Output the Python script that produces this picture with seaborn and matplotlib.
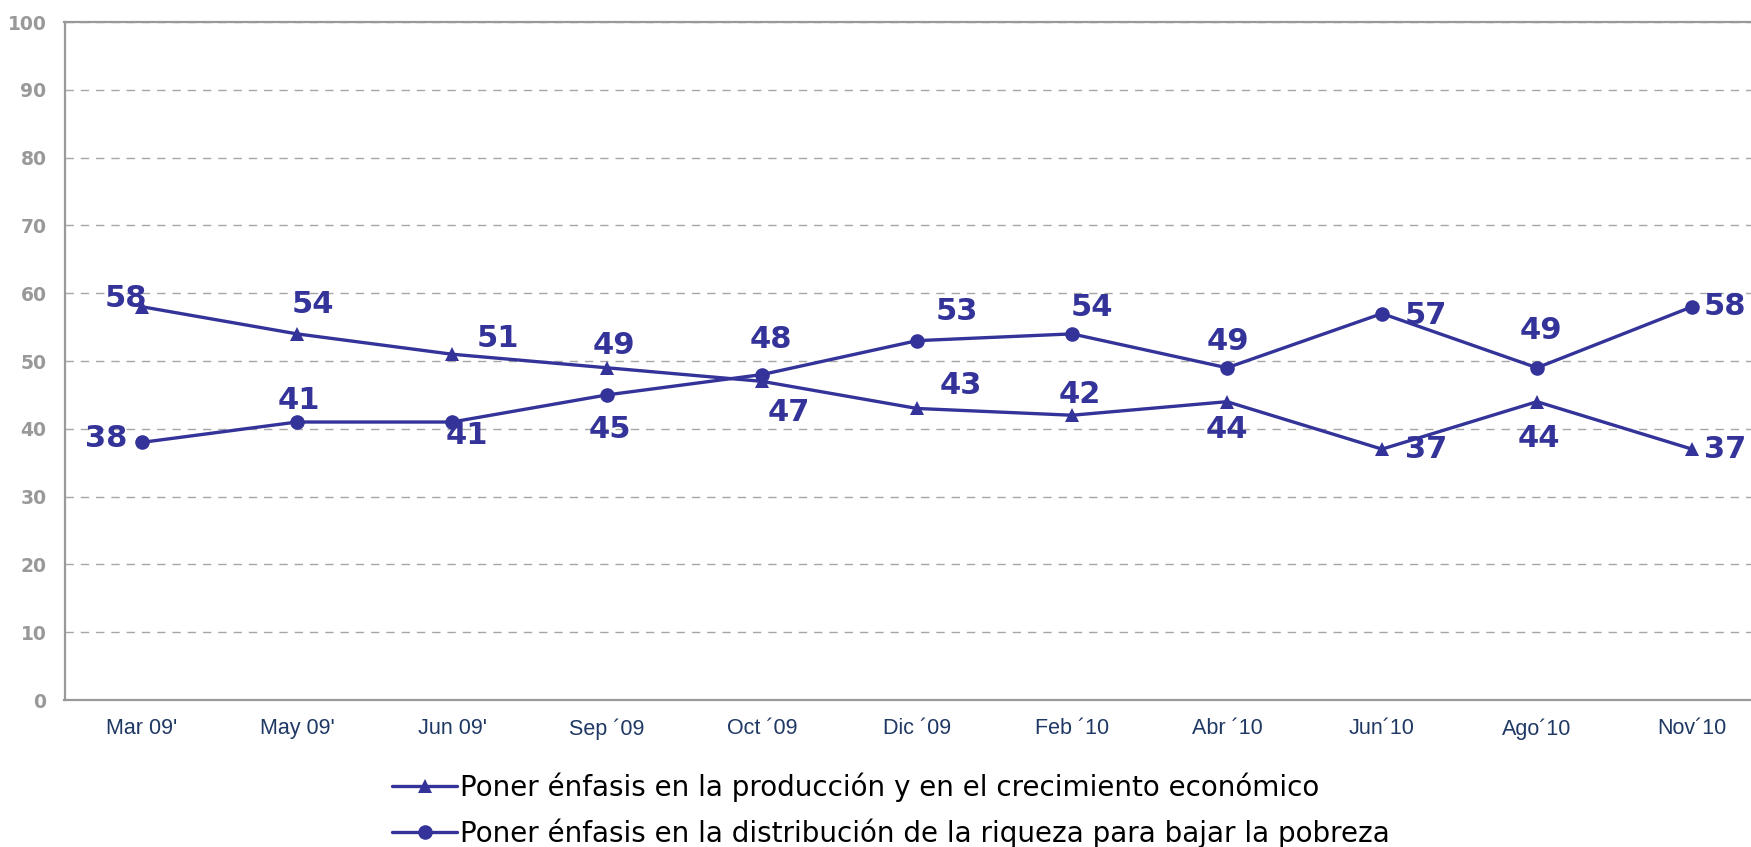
import pandas as pd
import numpy as np
import matplotlib
matplotlib.use("Agg")
import matplotlib.pyplot as plt
import seaborn as sns

# survey waves
months = ["Mar 09'", "May 09'", "Jun 09'", "Sep ´09", "Oct ´09", "Dic ´09",
          "Feb ´10", "Abr ´10", "Jun´10", "Ago´10", "Nov´10"]

# series values (%)
produccion = [58, 54, 51, 49, 47, 43, 42, 44, 37, 44, 37]
distribucion = [38, 41, 41, 45, 48, 53, 54, 49, 57, 49, 58]

label_prod = "Poner énfasis en la producción y en el crecimiento económico"
label_dist = "Poner énfasis en la distribución de la riqueza para bajar la pobreza"

# label offsets in pixels (dx, dy) relative to each point
off_prod = [(-16, 8), (16, 29), (46, 16), (7, 22), (27, -31), (44, 23),
            (8, 21), (0, -28), (44, 0), (2, -37), (33, 0)]
off_dist = [(-36, 4), (2, 22), (15, -13), (3, -35), (9, 35), (40, 29),
            (20, 26), (1, 26), (44, -2), (4, 37), (33, 0)]

blue = "#333399"
gray = "#999999"

df = pd.DataFrame({
    "mes": months * 2,
    "pos": list(range(len(months))) * 2,
    "valor": produccion + distribucion,
    "serie": [label_prod] * len(months) + [label_dist] * len(months),
})

sns.set_style("white")
plt.rcParams['font.family'] = ['DejaVu Sans']

W, H = 1751, 847
fig = plt.figure(figsize=(W / 100, H / 100), dpi=100)
ax = fig.add_axes([64.5 / W, 1 - 700 / H, 1705 / W, 678 / H])

sns.lineplot(data=df, x="pos", y="valor", hue="serie", style="serie",
             palette=[blue, blue], markers={label_prod: "^", label_dist: "o"},
             dashes=False, linewidth=2.4, markersize=10.5, markeredgewidth=0,
             sort=False, ax=ax)

handles, labels = ax.get_legend_handles_labels()
ax.get_legend().remove()

# data labels
for i in range(len(months)):
    ax.annotate(str(produccion[i]), (i, produccion[i]), xytext=off_prod[i],
                textcoords="offset pixels", ha="center", va="center",
                fontsize=22, fontweight="bold", color=blue)
    ax.annotate(str(distribucion[i]), (i, distribucion[i]), xytext=off_dist[i],
                textcoords="offset pixels", ha="center", va="center",
                fontsize=22, fontweight="bold", color=blue)

ax.set_xlim(-0.5, len(months) - 0.5)
ax.set_ylim(0, 100)
ax.set_yticks(np.arange(0, 101, 10))
ax.set_xticks(range(len(months)))
ax.set_xticklabels(months, family="Liberation Sans", fontsize=15.5, color="#1f3864")
ax.set_xticks(np.arange(-0.5, len(months), 1), minor=True)
ax.tick_params(axis="x", which="major", length=0, pad=13)
ax.tick_params(axis="x", which="minor", length=6, width=1.5, color=gray, direction="out")
ax.tick_params(axis="y", length=6, width=1.5, color=gray, direction="out", pad=7,
               labelsize=13.5, labelcolor=gray)
for t in ax.get_yticklabels():
    t.set_fontweight("bold")

ax.yaxis.grid(True, linestyle=(0, (6, 5)), color="#a6a6a6", linewidth=1)
ax.xaxis.grid(False)
for s in ["left", "bottom", "top"]:
    ax.spines[s].set_color(gray)
    ax.spines[s].set_linewidth(1.6)
ax.spines["right"].set_visible(False)
ax.set_xlabel("")
ax.set_ylabel("")

fig.legend(handles, labels, loc="center left", bbox_to_anchor=(392 / W, 1 - 810 / H),
           frameon=False, fontsize=20, handlelength=2.35, handletextpad=0.1,
           labelspacing=0.6, borderaxespad=0, borderpad=0, labelcolor="black")

fig.savefig("out.png", dpi=100)
